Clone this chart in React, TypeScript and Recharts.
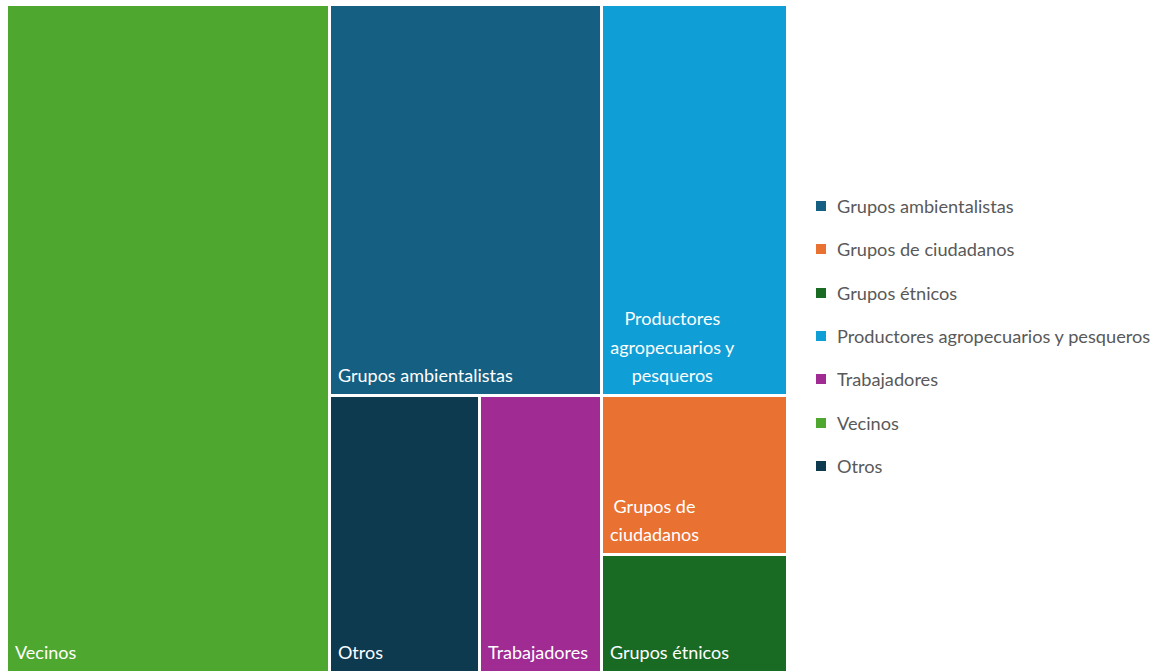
import React from 'react';
import { Treemap } from 'recharts';

const categories = [
  'Vecinos',
  'Grupos ambientalistas',
  'Productores agropecuarios y pesqueros',
  'Otros',
  'Trabajadores',
  'Grupos de ciudadanos',
  'Grupos étnicos',
];
const values = [41.5, 20.4, 14.0, 8.0, 6.5, 5.7, 4.2];

// legend order as in the original
const legendOrder = [
  'Grupos ambientalistas',
  'Grupos de ciudadanos',
  'Grupos étnicos',
  'Productores agropecuarios y pesqueros',
  'Trabajadores',
  'Vecinos',
  'Otros',
];

const COLORS: Record<string, string> = {
  'Vecinos': '#4ea72e',
  'Grupos ambientalistas': '#156082',
  'Productores agropecuarios y pesqueros': '#0f9ed5',
  'Otros': '#0e3a50',
  'Trabajadores': '#a02b93',
  'Grupos de ciudadanos': '#e97132',
  'Grupos étnicos': '#196b24',
};

const FONT = '18px Lato';

const leaf = (name: string) => ({ name, size: values[categories.indexOf(name)] });

// grouping so the squarify pass lands on the same block arrangement
const treeData = [
  leaf('Vecinos'),
  {
    name: 'resto',
    children: [
      { name: 'arriba', children: [leaf('Grupos ambientalistas'), leaf('Productores agropecuarios y pesqueros')] },
      {
        name: 'abajo',
        children: [
          leaf('Otros'),
          leaf('Trabajadores'),
          { name: 'pila', children: [leaf('Grupos de ciudadanos'), leaf('Grupos étnicos')] },
        ],
      },
    ],
  },
];

let ctx: CanvasRenderingContext2D | null = null;
const measure = (s: string) => {
  if (!ctx) {
    ctx = document.createElement('canvas').getContext('2d');
  }
  if (!ctx) return s.length * 8.5;
  ctx.font = FONT;
  return ctx.measureText(s).width;
};

const wrap = (text: string, maxW: number) => {
  const words = text.split(' ');
  const lines: string[] = [];
  let cur = '';
  words.forEach((w) => {
    const test = cur ? cur + ' ' + w : w;
    if (cur && measure(test) > maxW) {
      lines.push(cur);
      cur = w;
    } else {
      cur = test;
    }
  });
  if (cur) lines.push(cur);
  return lines;
};

const Block = (props: any) => {
  const { x, y, width, height, name, children } = props;
  if ((children && children.length) || !COLORS[name]) return <g />;
  const fx = x + 1;
  const fy = y + 1;
  const fw = width - 3;
  const fh = height - 3;
  const lines = wrap(name, fw - 14);
  const blockW = Math.max(...lines.map(measure));
  const cx = fx + 7 + blockW / 2;
  const base = fy + fh - 12;
  return (
    <g>
      <rect x={fx} y={fy} width={fw} height={fh} fill={COLORS[name]} />
      <text fill="#ffffff" style={{ font: FONT }} textAnchor="middle">
        {lines.map((l, i) => (
          <tspan key={i} x={cx} y={base - (lines.length - 1 - i) * 28.5}>
            {l}
          </tspan>
        ))}
      </text>
    </g>
  );
};

const App = () => {
  return (
    <div style={{ position: 'absolute', left: 0, top: 0, width: 1160, height: 671, background: '#fff', overflow: 'hidden' }}>
      <div style={{ position: 'absolute', left: 7, top: 5 }}>
        <Treemap
          width={781}
          height={668}
          data={treeData}
          dataKey="size"
          aspectRatio={0.8}
          isAnimationActive={false}
          content={<Block />}
        />
      </div>

      {/* legend */}
      <div style={{ position: 'absolute', left: 816, top: 184.3, fontFamily: 'Lato', fontSize: 18.2, color: '#595959' }}>
        {legendOrder.map((n) => (
          <div key={n} style={{ height: 43.33, display: 'flex', alignItems: 'center', whiteSpace: 'nowrap' }}>
            <span style={{ width: 10, height: 10, background: COLORS[n], marginRight: 11, flexShrink: 0 }} />
            <span>{n}</span>
          </div>
        ))}
      </div>
    </div>
  );
};

export default App;
